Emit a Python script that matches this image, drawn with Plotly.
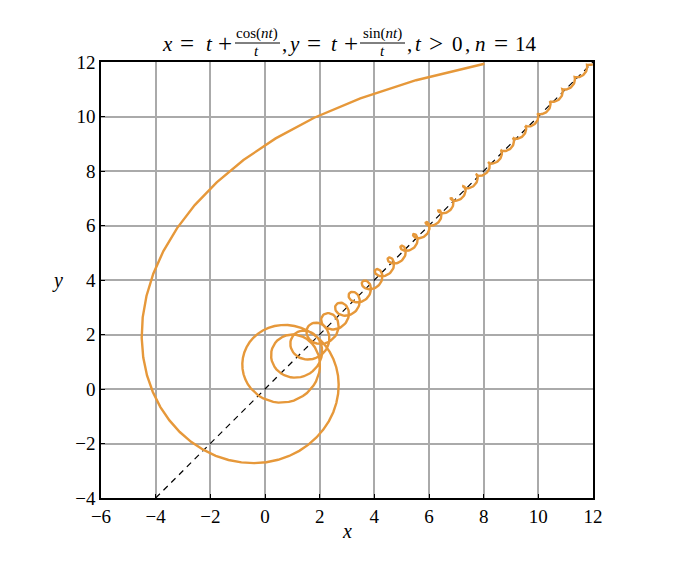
import numpy as np
import plotly.graph_objects as go

# curve parameters (from the title)
n = 14
t_start, t_end, t_step = 0.07, 12.0, 0.01
t = np.round(np.arange(t_start, t_end + t_step / 2, t_step), 4)
x_curve = t + np.cos(n * t) / t
y_curve = t + np.sin(n * t) / t

# reference line y = x
x_ref = [-4, 12]
y_ref = [-4, 12]

x_ticks = [-6, -4, -2, 0, 2, 4, 6, 8, 10, 12]
y_ticks = [-4, -2, 0, 2, 4, 6, 8, 10, 12]

FONT = "Liberation Serif"
ORANGE = "#e6983a"

# plot-area geometry in page pixels (page has an 8px body margin)
PL, PT, PW, PH = 101, 62, 492, 436


def px(xp):
    return (xp - PL) / PW


def py(yp):
    return 1 + (PT - yp) / PH


fig = go.Figure()
fig.add_trace(go.Scatter(x=x_ref, y=y_ref, mode="lines",
                         line=dict(color="black", width=1.2, dash="6px,5px"),
                         hoverinfo="skip", showlegend=False))
fig.add_trace(go.Scatter(x=x_curve, y=y_curve, mode="lines",
                         line=dict(color=ORANGE, width=2.4),
                         showlegend=False))

axis_common = dict(showgrid=True, gridcolor="#aaaaaa", gridwidth=1.5,
                   zeroline=False, showline=True, linecolor="black", linewidth=1.5,
                   mirror=True, ticks="inside", ticklen=4, tickcolor="black",
                   tickfont=dict(family=FONT, size=19, color="black"))

fig.update_xaxes(range=[-6, 12], tickvals=x_ticks, **axis_common)
fig.update_yaxes(range=[-4, 12], tickvals=y_ticks, **axis_common)

MAIN = dict(family=FONT, size=21, color="black")
OPS = dict(family=FONT, size=25, color="black")
SMALL = dict(family=FONT, size=15, color="black")
LABEL = dict(family=FONT, size=20, color="black")


def ann(text, xp, yp, font, xanchor="center"):
    return dict(text=text, xref="paper", yref="paper", x=px(xp), y=py(yp),
                xanchor=xanchor, yanchor="middle", showarrow=False, font=font)


# title tokens: (text, centre x in page px, is operator)
title_tokens = [
    ("<i>x</i>", 167, False), ("=", 187, True), ("<i>t</i>", 209, False), ("+", 225, True),
    (",", 284, False), ("<i>y</i>", 294, False), ("=", 314, True), ("<i>t</i>", 334, False),
    ("+", 351, True), (",", 409, False), ("<i>t</i>", 418, False), (">", 436, True),
    ("0", 457, False), (",", 467, False), ("<i>n</i>", 480, False), ("=", 501, True),
    ("14", 526, False),
]
title_y = 44

annotations = [ann(txt, xp, title_y, OPS if op else MAIN)
               for txt, xp, op in title_tokens]
annotations += [
    ann("cos(<i>nt</i>)", 257, 34, SMALL),
    ann("<i>t</i>", 256, 51, SMALL),
    ann("sin(<i>nt</i>)", 382, 34, SMALL),
    ann("<i>t</i>", 382, 51, SMALL),
    ann("<i>x</i>", 347, 531, LABEL),
    ann("<i>y</i>", 57, 280, LABEL),
]

shapes = [
    dict(type="line", xref="paper", yref="paper", x0=px(235), x1=px(280),
         y0=py(43), y1=py(43), line=dict(color="black", width=1)),
    dict(type="line", xref="paper", yref="paper", x0=px(360), x1=px(405),
         y0=py(43), y1=py(43), line=dict(color="black", width=1)),
]

fig.update_layout(
    width=680, height=573,
    margin=dict(l=PL - 8, r=680 - (PL - 8) - PW, t=PT - 8, b=573 - (PT - 8) - PH),
    plot_bgcolor="white", paper_bgcolor="white",
    font=dict(family=FONT, color="black"),
    annotations=annotations,
    shapes=shapes,
)

fig.write_html("out.html")
